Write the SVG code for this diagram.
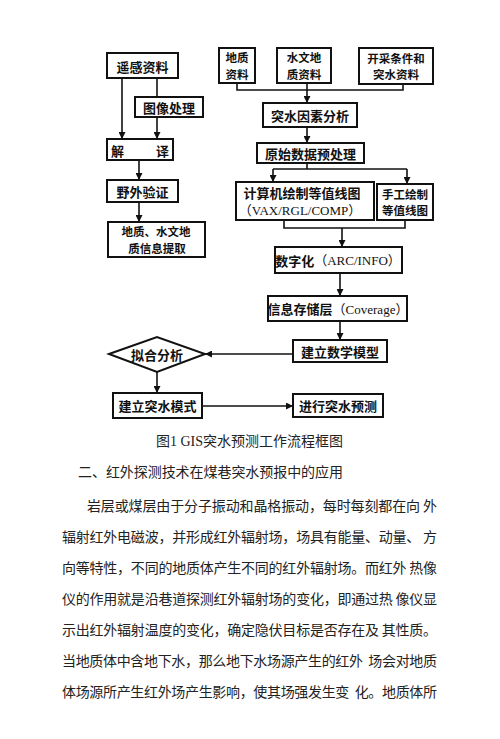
<svg xmlns="http://www.w3.org/2000/svg" width="500" height="739" viewBox="0 0 500 739">
<defs>
<style>
.box{fill:#fff;stroke:#111;stroke-width:2}
.lbl{font-family:"Noto Sans CJK SC","Liberation Serif",sans-serif;font-size:13px;font-weight:700;fill:#111;text-anchor:middle;dominant-baseline:central}
.two{font-size:11.5px}
.lat{font-family:"Liberation Serif","Noto Sans CJK SC",serif;font-weight:400}
.con{fill:none;stroke:#111;stroke-width:1.6}
.cap{font-family:"Liberation Serif","Noto Sans CJK SC",serif;font-size:14px;fill:#222;dominant-baseline:central}
.par{font-family:"Noto Sans CJK SC",sans-serif;font-size:14px;fill:#222;dominant-baseline:central}
</style>
<marker id="ah" viewBox="0 0 10 10" refX="10" refY="5" markerWidth="7" markerHeight="7" markerUnits="userSpaceOnUse" orient="auto">
<path d="M0,0 L10,5 L0,10 z" fill="#111"/>
</marker>
</defs>
<rect width="500" height="739" fill="#fff"/>
<g id="connectors">
<path class="con" d="M122,78 V139" marker-end="url(#ah)"/>
<path class="con" d="M157,78 V97"/>
<path class="con" d="M157,117 V139" marker-end="url(#ah)"/>
<path class="con" d="M139,160 V180" marker-end="url(#ah)"/>
<path class="con" d="M139,202 V222" marker-end="url(#ah)"/>
<path class="con" d="M237,83 V90 H403 V84"/>
<path class="con" d="M307,83 V103" marker-end="url(#ah)"/>
<path class="con" d="M307,127 V143" marker-end="url(#ah)"/>
<path class="con" d="M307,163 V169"/>
<path class="con" d="M273,169 H407"/>
<path class="con" d="M273,169 V182" marker-end="url(#ah)"/>
<path class="con" d="M407,169 V184" marker-end="url(#ah)"/>
<path class="con" d="M284,220 V228 H405 V220"/>
<path class="con" d="M342,228 V247" marker-end="url(#ah)"/>
<path class="con" d="M340,273 V296" marker-end="url(#ah)"/>
<path class="con" d="M340,321 V340" marker-end="url(#ah)"/>
<path class="con" d="M293,354 H205" marker-end="url(#ah)"/>
<path class="con" d="M157,372 V393" marker-end="url(#ah)"/>
<path class="con" d="M202,406 H293" marker-end="url(#ah)"/>
</g>
<g id="n_yaogan"><rect class="box" x="107" y="53" width="71" height="25"/><text class="lbl" x="142.5" y="66">遥感资料</text></g>
<g id="n_tuxiang"><rect class="box" x="135" y="97" width="68" height="20"/><text class="lbl" x="169" y="107">图像处理</text></g>
<g id="n_jieyi"><rect class="box" x="107" y="139" width="66" height="21"/><text class="lbl" x="140" y="150" textLength="58" lengthAdjust="spacing">解译</text></g>
<g id="n_yewai"><rect class="box" x="107" y="180" width="71" height="22"/><text class="lbl" x="142.5" y="191">野外验证</text></g>
<g id="n_dizhixinxi"><rect class="box" x="108" y="222" width="97" height="35"/><text class="lbl two" x="156" y="231.1">地质、水文地<tspan x="157" y="247.9">质信息提取</tspan></text></g>
<g id="n_dizhi"><rect class="box" x="219" y="48" width="36" height="35"/><text class="lbl two" x="237" y="57.1">地质<tspan x="237" y="73.9">资料</tspan></text></g>
<g id="n_shuiwen"><rect class="box" x="277" y="48" width="54" height="35"/><text class="lbl two" x="304" y="57.1">水文地<tspan x="304" y="73.9">质资料</tspan></text></g>
<g id="n_kaicai"><rect class="box" x="359" y="48" width="74" height="36"/><text class="lbl two" x="396" y="57.6">开采条件和<tspan x="396" y="74.4">突水资料</tspan></text></g>
<g id="n_tushui"><rect class="box" x="263" y="103" width="94" height="24"/><text class="lbl" x="310" y="115">突水因素分析</text></g>
<g id="n_yuanshi"><rect class="box" x="257" y="143" width="107" height="20"/><text class="lbl" x="310.5" y="153">原始数据预处理</text></g>
<g id="n_jisuanji"><rect class="box" x="236" y="182" width="138" height="38"/><text class="lbl" x="302" y="192">计算机绘制等值线图<tspan class="lat" x="300" y="209.5">（VAX/RGL/COMP）</tspan></text></g>
<g id="n_shougong"><rect class="box" x="377" y="184" width="56" height="36"/><text class="lbl two" x="405" y="193.6">手工绘制<tspan x="405" y="210.4">等值线图</tspan></text></g>
<g id="n_shuzihua"><rect class="box" x="275" y="247" width="127" height="26"/><text class="lbl" x="338" y="260">数字化<tspan class="lat">（ARC/INFO）</tspan></text></g>
<g id="n_xinxi"><rect class="box" x="268" y="296" width="139" height="25"/><text class="lbl" x="338" y="308.5">信息存储层<tspan class="lat">（Coverage）</tspan></text></g>
<g id="n_shuxue"><rect class="box" x="293" y="340" width="94" height="22"/><text class="lbl" x="340" y="351">建立数学模型</text></g>
<g id="n_nihe"><polygon class="box" points="109,354 157,337 205,354 157,372"/><text class="lbl" x="157" y="354.5">拟合分析</text></g>
<g id="n_moshi"><rect class="box" x="113" y="393" width="89" height="25"/><text class="lbl" x="157.5" y="405.5">建立突水模式</text></g>
<g id="n_yuce"><rect class="box" x="293" y="394" width="90" height="23"/><text class="lbl" x="338" y="405.5">进行突水预测</text></g>
<g id="text">
<text class="cap" x="156" y="441" font-size="15" textLength="187" lengthAdjust="spacingAndGlyphs">图1 GIS突水预测工作流程框图</text>
<text class="par" x="78" y="471" font-size="15" textLength="265">二、红外探测技术在煤巷突水预报中的应用</text>
<text class="par" x="87" y="505" textLength="350" xml:space="preserve">岩层或煤层由于分子振动和晶格振动，每时每刻都在向 外</text>
<text class="par" x="62" y="536" textLength="375" xml:space="preserve">辐射红外电磁波，并形成红外辐射场，场具有能量、动量、 方</text>
<text class="par" x="62" y="567" textLength="375" xml:space="preserve">向等特性，不同的地质体产生不同的红外辐射场。而红外 热像</text>
<text class="par" x="62" y="598" textLength="375" xml:space="preserve">仪的作用就是沿巷道探测红外辐射场的变化，即通过热 像仪显</text>
<text class="par" x="62" y="629" textLength="375" xml:space="preserve">示出红外辐射温度的变化，确定隐伏目标是否存在及 其性质。</text>
<text class="par" x="62" y="660" textLength="375" xml:space="preserve">当地质体中含地下水，那么地下水场源产生的红外  场会对地质</text>
<text class="par" x="62" y="691" textLength="375" xml:space="preserve">体场源所产生红外场产生影响，使其场强发生变  化。地质体所</text>
</g>
</svg>
